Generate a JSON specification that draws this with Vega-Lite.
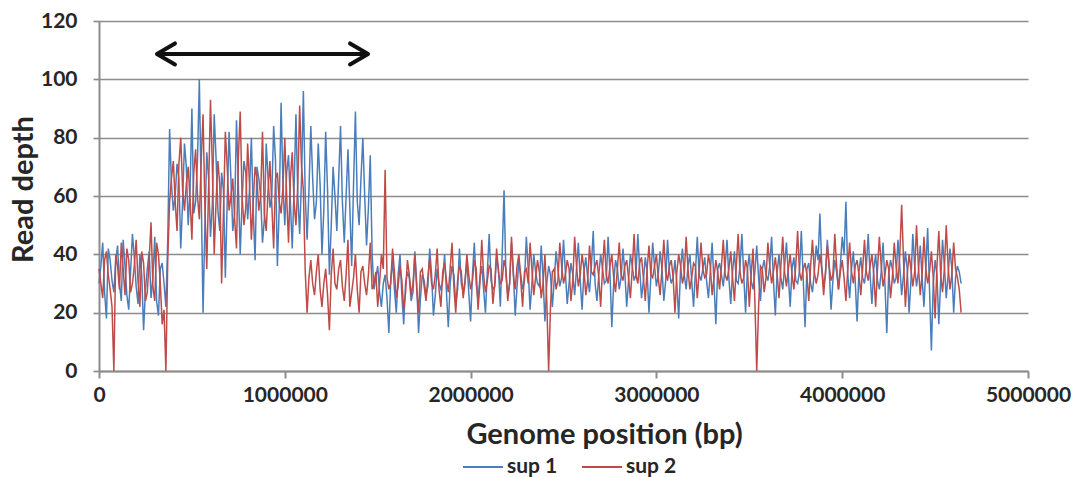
{
"$schema": "https://vega.github.io/schema/vega-lite/v6.json",
"width": 929, "height": 350,
"autosize": {"type": "none"},
"padding": {"left": 99, "top": 21, "right": 47, "bottom": 106},
"background": "white",
"config": {"view": {"stroke": null}, "font": "Lato"},
"datasets": {
"arrow": [{"x1": 312000, "x2": 1448000, "y": 108.7}],
"depth": [
{"pos":0,"sup 1":30,"sup 2":35},
{"pos":10000,"sup 1":36,"sup 2":30},
{"pos":20000,"sup 1":44,"sup 2":25},
{"pos":30000,"sup 1":27,"sup 2":38},
{"pos":40000,"sup 1":18,"sup 2":41},
{"pos":50000,"sup 1":42,"sup 2":33},
{"pos":60000,"sup 1":38,"sup 2":28},
{"pos":70000,"sup 1":31,"sup 2":22},
{"pos":80000,"sup 1":27,"sup 2":0},
{"pos":90000,"sup 1":38,"sup 2":40},
{"pos":100000,"sup 1":43,"sup 2":36},
{"pos":110000,"sup 1":30,"sup 2":28},
{"pos":120000,"sup 1":24,"sup 2":44},
{"pos":130000,"sup 1":45,"sup 2":35},
{"pos":140000,"sup 1":36,"sup 2":26},
{"pos":150000,"sup 1":26,"sup 2":42},
{"pos":160000,"sup 1":21,"sup 2":38},
{"pos":170000,"sup 1":34,"sup 2":27},
{"pos":180000,"sup 1":47,"sup 2":30},
{"pos":190000,"sup 1":39,"sup 2":36},
{"pos":200000,"sup 1":29,"sup 2":45},
{"pos":210000,"sup 1":23,"sup 2":31},
{"pos":220000,"sup 1":40,"sup 2":22},
{"pos":230000,"sup 1":33,"sup 2":41},
{"pos":240000,"sup 1":14,"sup 2":37},
{"pos":250000,"sup 1":28,"sup 2":24},
{"pos":260000,"sup 1":35,"sup 2":27},
{"pos":270000,"sup 1":41,"sup 2":38},
{"pos":280000,"sup 1":25,"sup 2":51},
{"pos":290000,"sup 1":32,"sup 2":29},
{"pos":300000,"sup 1":46,"sup 2":24},
{"pos":310000,"sup 1":24,"sup 2":44},
{"pos":320000,"sup 1":19,"sup 2":40},
{"pos":330000,"sup 1":35,"sup 2":30},
{"pos":340000,"sup 1":37,"sup 2":16},
{"pos":350000,"sup 1":30,"sup 2":21},
{"pos":360000,"sup 1":22,"sup 2":0},
{"pos":370000,"sup 1":45,"sup 2":38},
{"pos":380000,"sup 1":83,"sup 2":58},
{"pos":390000,"sup 1":64,"sup 2":66},
{"pos":400000,"sup 1":55,"sup 2":72},
{"pos":410000,"sup 1":60,"sup 2":58},
{"pos":420000,"sup 1":71,"sup 2":48},
{"pos":430000,"sup 1":66,"sup 2":71},
{"pos":440000,"sup 1":42,"sup 2":80},
{"pos":450000,"sup 1":58,"sup 2":62},
{"pos":460000,"sup 1":78,"sup 2":55},
{"pos":470000,"sup 1":70,"sup 2":64},
{"pos":480000,"sup 1":50,"sup 2":70},
{"pos":490000,"sup 1":62,"sup 2":59},
{"pos":500000,"sup 1":90,"sup 2":45},
{"pos":510000,"sup 1":54,"sup 2":68},
{"pos":520000,"sup 1":58,"sup 2":76},
{"pos":530000,"sup 1":72,"sup 2":60},
{"pos":540000,"sup 1":100,"sup 2":52},
{"pos":550000,"sup 1":61,"sup 2":72},
{"pos":560000,"sup 1":20,"sup 2":88},
{"pos":570000,"sup 1":50,"sup 2":56},
{"pos":580000,"sup 1":75,"sup 2":35},
{"pos":590000,"sup 1":66,"sup 2":63},
{"pos":600000,"sup 1":46,"sup 2":93},
{"pos":610000,"sup 1":57,"sup 2":70},
{"pos":620000,"sup 1":88,"sup 2":40},
{"pos":630000,"sup 1":73,"sup 2":58},
{"pos":640000,"sup 1":55,"sup 2":72},
{"pos":650000,"sup 1":48,"sup 2":64},
{"pos":660000,"sup 1":68,"sup 2":30},
{"pos":670000,"sup 1":62,"sup 2":55},
{"pos":680000,"sup 1":32,"sup 2":82},
{"pos":690000,"sup 1":58,"sup 2":70},
{"pos":700000,"sup 1":82,"sup 2":55},
{"pos":710000,"sup 1":66,"sup 2":60},
{"pos":720000,"sup 1":48,"sup 2":66},
{"pos":730000,"sup 1":54,"sup 2":52},
{"pos":740000,"sup 1":86,"sup 2":42},
{"pos":750000,"sup 1":64,"sup 2":73},
{"pos":760000,"sup 1":40,"sup 2":89},
{"pos":770000,"sup 1":58,"sup 2":60},
{"pos":780000,"sup 1":72,"sup 2":50},
{"pos":790000,"sup 1":68,"sup 2":56},
{"pos":800000,"sup 1":52,"sup 2":78},
{"pos":810000,"sup 1":62,"sup 2":64},
{"pos":820000,"sup 1":80,"sup 2":45},
{"pos":830000,"sup 1":55,"sup 2":58},
{"pos":840000,"sup 1":38,"sup 2":70},
{"pos":850000,"sup 1":70,"sup 2":66},
{"pos":860000,"sup 1":66,"sup 2":55},
{"pos":870000,"sup 1":60,"sup 2":60},
{"pos":880000,"sup 1":44,"sup 2":82},
{"pos":890000,"sup 1":52,"sup 2":54},
{"pos":900000,"sup 1":78,"sup 2":48},
{"pos":910000,"sup 1":66,"sup 2":62},
{"pos":920000,"sup 1":56,"sup 2":72},
{"pos":930000,"sup 1":60,"sup 2":57},
{"pos":940000,"sup 1":84,"sup 2":42},
{"pos":950000,"sup 1":72,"sup 2":66},
{"pos":960000,"sup 1":36,"sup 2":68},
{"pos":970000,"sup 1":56,"sup 2":58},
{"pos":980000,"sup 1":92,"sup 2":54},
{"pos":990000,"sup 1":64,"sup 2":63},
{"pos":1000000,"sup 1":50,"sup 2":80},
{"pos":1010000,"sup 1":68,"sup 2":60},
{"pos":1020000,"sup 1":74,"sup 2":44},
{"pos":1030000,"sup 1":58,"sup 2":66},
{"pos":1040000,"sup 1":42,"sup 2":75},
{"pos":1050000,"sup 1":63,"sup 2":58},
{"pos":1060000,"sup 1":88,"sup 2":50},
{"pos":1070000,"sup 1":60,"sup 2":64},
{"pos":1080000,"sup 1":47,"sup 2":91},
{"pos":1090000,"sup 1":66,"sup 2":70},
{"pos":1100000,"sup 1":96,"sup 2":62},
{"pos":1110000,"sup 1":60,"sup 2":34},
{"pos":1120000,"sup 1":45,"sup 2":20},
{"pos":1130000,"sup 1":62,"sup 2":32},
{"pos":1140000,"sup 1":84,"sup 2":38},
{"pos":1150000,"sup 1":66,"sup 2":30},
{"pos":1160000,"sup 1":52,"sup 2":26},
{"pos":1170000,"sup 1":58,"sup 2":34},
{"pos":1180000,"sup 1":78,"sup 2":40},
{"pos":1190000,"sup 1":64,"sup 2":28},
{"pos":1200000,"sup 1":40,"sup 2":22},
{"pos":1210000,"sup 1":55,"sup 2":30},
{"pos":1220000,"sup 1":82,"sup 2":35},
{"pos":1230000,"sup 1":62,"sup 2":26},
{"pos":1240000,"sup 1":33,"sup 2":14},
{"pos":1250000,"sup 1":50,"sup 2":33},
{"pos":1260000,"sup 1":70,"sup 2":42},
{"pos":1270000,"sup 1":60,"sup 2":30},
{"pos":1280000,"sup 1":48,"sup 2":28},
{"pos":1290000,"sup 1":66,"sup 2":35},
{"pos":1300000,"sup 1":84,"sup 2":38},
{"pos":1310000,"sup 1":58,"sup 2":29},
{"pos":1320000,"sup 1":44,"sup 2":24},
{"pos":1330000,"sup 1":60,"sup 2":33},
{"pos":1340000,"sup 1":76,"sup 2":45},
{"pos":1350000,"sup 1":56,"sup 2":22},
{"pos":1360000,"sup 1":36,"sup 2":27},
{"pos":1370000,"sup 1":64,"sup 2":32},
{"pos":1380000,"sup 1":89,"sup 2":40},
{"pos":1390000,"sup 1":58,"sup 2":28},
{"pos":1400000,"sup 1":50,"sup 2":20},
{"pos":1410000,"sup 1":66,"sup 2":34},
{"pos":1420000,"sup 1":80,"sup 2":36},
{"pos":1430000,"sup 1":60,"sup 2":30},
{"pos":1440000,"sup 1":43,"sup 2":26},
{"pos":1450000,"sup 1":56,"sup 2":33},
{"pos":1460000,"sup 1":74,"sup 2":44},
{"pos":1470000,"sup 1":40,"sup 2":28},
{"pos":1480000,"sup 1":28,"sup 2":30},
{"pos":1490000,"sup 1":32,"sup 2":34},
{"pos":1500000,"sup 1":36,"sup 2":22},
{"pos":1510000,"sup 1":27,"sup 2":30},
{"pos":1520000,"sup 1":22,"sup 2":40},
{"pos":1530000,"sup 1":30,"sup 2":35},
{"pos":1540000,"sup 1":33,"sup 2":69},
{"pos":1550000,"sup 1":25,"sup 2":32},
{"pos":1560000,"sup 1":13,"sup 2":28},
{"pos":1570000,"sup 1":31,"sup 2":30},
{"pos":1580000,"sup 1":38,"sup 2":42},
{"pos":1590000,"sup 1":28,"sup 2":34},
{"pos":1600000,"sup 1":20,"sup 2":25},
{"pos":1610000,"sup 1":33,"sup 2":29},
{"pos":1620000,"sup 1":40,"sup 2":36},
{"pos":1630000,"sup 1":26,"sup 2":31},
{"pos":1640000,"sup 1":16,"sup 2":21},
{"pos":1650000,"sup 1":30,"sup 2":27},
{"pos":1660000,"sup 1":34,"sup 2":38},
{"pos":1670000,"sup 1":32,"sup 2":33},
{"pos":1680000,"sup 1":24,"sup 2":26},
{"pos":1690000,"sup 1":27,"sup 2":30},
{"pos":1700000,"sup 1":41,"sup 2":40},
{"pos":1710000,"sup 1":30,"sup 2":28},
{"pos":1720000,"sup 1":13,"sup 2":20},
{"pos":1730000,"sup 1":25,"sup 2":34},
{"pos":1740000,"sup 1":33,"sup 2":35},
{"pos":1750000,"sup 1":31,"sup 2":29},
{"pos":1760000,"sup 1":26,"sup 2":24},
{"pos":1770000,"sup 1":29,"sup 2":32},
{"pos":1780000,"sup 1":42,"sup 2":39},
{"pos":1790000,"sup 1":33,"sup 2":30},
{"pos":1800000,"sup 1":19,"sup 2":28},
{"pos":1810000,"sup 1":26,"sup 2":33},
{"pos":1820000,"sup 1":35,"sup 2":42},
{"pos":1830000,"sup 1":30,"sup 2":28},
{"pos":1840000,"sup 1":28,"sup 2":22},
{"pos":1850000,"sup 1":31,"sup 2":34},
{"pos":1860000,"sup 1":40,"sup 2":37},
{"pos":1870000,"sup 1":27,"sup 2":31},
{"pos":1880000,"sup 1":15,"sup 2":27},
{"pos":1890000,"sup 1":30,"sup 2":35},
{"pos":1900000,"sup 1":36,"sup 2":44},
{"pos":1910000,"sup 1":33,"sup 2":29},
{"pos":1920000,"sup 1":23,"sup 2":20},
{"pos":1930000,"sup 1":28,"sup 2":31},
{"pos":1940000,"sup 1":42,"sup 2":36},
{"pos":1950000,"sup 1":30,"sup 2":34},
{"pos":1960000,"sup 1":27,"sup 2":25},
{"pos":1970000,"sup 1":31,"sup 2":30},
{"pos":1980000,"sup 1":38,"sup 2":40},
{"pos":1990000,"sup 1":27,"sup 2":33},
{"pos":2000000,"sup 1":17,"sup 2":28},
{"pos":2010000,"sup 1":33,"sup 2":31},
{"pos":2020000,"sup 1":44,"sup 2":38},
{"pos":2030000,"sup 1":30,"sup 2":35},
{"pos":2040000,"sup 1":24,"sup 2":21},
{"pos":2050000,"sup 1":32,"sup 2":30},
{"pos":2060000,"sup 1":36,"sup 2":45},
{"pos":2070000,"sup 1":28,"sup 2":33},
{"pos":2080000,"sup 1":20,"sup 2":27},
{"pos":2090000,"sup 1":34,"sup 2":31},
{"pos":2100000,"sup 1":47,"sup 2":36},
{"pos":2110000,"sup 1":31,"sup 2":35},
{"pos":2120000,"sup 1":28,"sup 2":23},
{"pos":2130000,"sup 1":29,"sup 2":30},
{"pos":2140000,"sup 1":39,"sup 2":42},
{"pos":2150000,"sup 1":35,"sup 2":34},
{"pos":2160000,"sup 1":22,"sup 2":30},
{"pos":2170000,"sup 1":40,"sup 2":31},
{"pos":2180000,"sup 1":62,"sup 2":38},
{"pos":2190000,"sup 1":33,"sup 2":35},
{"pos":2200000,"sup 1":26,"sup 2":24},
{"pos":2210000,"sup 1":30,"sup 2":30},
{"pos":2220000,"sup 1":44,"sup 2":46},
{"pos":2230000,"sup 1":34,"sup 2":33},
{"pos":2240000,"sup 1":19,"sup 2":28},
{"pos":2250000,"sup 1":29,"sup 2":36},
{"pos":2260000,"sup 1":38,"sup 2":40},
{"pos":2270000,"sup 1":33,"sup 2":31},
{"pos":2280000,"sup 1":28,"sup 2":22},
{"pos":2290000,"sup 1":31,"sup 2":34},
{"pos":2300000,"sup 1":46,"sup 2":35},
{"pos":2310000,"sup 1":35,"sup 2":30},
{"pos":2320000,"sup 1":21,"sup 2":44},
{"pos":2330000,"sup 1":30,"sup 2":35},
{"pos":2340000,"sup 1":40,"sup 2":26},
{"pos":2350000,"sup 1":34,"sup 2":32},
{"pos":2360000,"sup 1":30,"sup 2":38},
{"pos":2370000,"sup 1":29,"sup 2":34},
{"pos":2380000,"sup 1":43,"sup 2":25},
{"pos":2390000,"sup 1":32,"sup 2":30},
{"pos":2400000,"sup 1":17,"sup 2":40},
{"pos":2410000,"sup 1":30,"sup 2":24},
{"pos":2420000,"sup 1":36,"sup 2":0},
{"pos":2430000,"sup 1":33,"sup 2":22},
{"pos":2440000,"sup 1":22,"sup 2":34},
{"pos":2450000,"sup 1":31,"sup 2":35},
{"pos":2460000,"sup 1":41,"sup 2":28},
{"pos":2470000,"sup 1":35,"sup 2":31},
{"pos":2480000,"sup 1":29,"sup 2":44},
{"pos":2490000,"sup 1":32,"sup 2":36},
{"pos":2500000,"sup 1":45,"sup 2":30},
{"pos":2510000,"sup 1":34,"sup 2":33},
{"pos":2520000,"sup 1":23,"sup 2":38},
{"pos":2530000,"sup 1":30,"sup 2":35},
{"pos":2540000,"sup 1":37,"sup 2":24},
{"pos":2550000,"sup 1":33,"sup 2":31},
{"pos":2560000,"sup 1":26,"sup 2":46},
{"pos":2570000,"sup 1":35,"sup 2":36},
{"pos":2580000,"sup 1":44,"sup 2":29},
{"pos":2590000,"sup 1":31,"sup 2":33},
{"pos":2600000,"sup 1":21,"sup 2":40},
{"pos":2610000,"sup 1":34,"sup 2":35},
{"pos":2620000,"sup 1":39,"sup 2":26},
{"pos":2630000,"sup 1":32,"sup 2":31},
{"pos":2640000,"sup 1":27,"sup 2":43},
{"pos":2650000,"sup 1":36,"sup 2":34},
{"pos":2660000,"sup 1":48,"sup 2":33},
{"pos":2670000,"sup 1":30,"sup 2":36},
{"pos":2680000,"sup 1":24,"sup 2":38},
{"pos":2690000,"sup 1":33,"sup 2":32},
{"pos":2700000,"sup 1":40,"sup 2":22},
{"pos":2710000,"sup 1":35,"sup 2":35},
{"pos":2720000,"sup 1":30,"sup 2":45},
{"pos":2730000,"sup 1":31,"sup 2":33},
{"pos":2740000,"sup 1":46,"sup 2":30},
{"pos":2750000,"sup 1":34,"sup 2":36},
{"pos":2760000,"sup 1":15,"sup 2":40},
{"pos":2770000,"sup 1":30,"sup 2":32},
{"pos":2780000,"sup 1":38,"sup 2":27},
{"pos":2790000,"sup 1":35,"sup 2":35},
{"pos":2800000,"sup 1":28,"sup 2":44},
{"pos":2810000,"sup 1":32,"sup 2":33},
{"pos":2820000,"sup 1":42,"sup 2":31},
{"pos":2830000,"sup 1":34,"sup 2":36},
{"pos":2840000,"sup 1":22,"sup 2":38},
{"pos":2850000,"sup 1":31,"sup 2":32},
{"pos":2860000,"sup 1":40,"sup 2":25},
{"pos":2870000,"sup 1":36,"sup 2":35},
{"pos":2880000,"sup 1":31,"sup 2":47},
{"pos":2890000,"sup 1":33,"sup 2":33},
{"pos":2900000,"sup 1":47,"sup 2":30},
{"pos":2910000,"sup 1":35,"sup 2":37},
{"pos":2920000,"sup 1":25,"sup 2":39},
{"pos":2930000,"sup 1":31,"sup 2":32},
{"pos":2940000,"sup 1":39,"sup 2":24},
{"pos":2950000,"sup 1":34,"sup 2":35},
{"pos":2960000,"sup 1":20,"sup 2":43},
{"pos":2970000,"sup 1":32,"sup 2":33},
{"pos":2980000,"sup 1":44,"sup 2":32},
{"pos":2990000,"sup 1":36,"sup 2":36},
{"pos":3000000,"sup 1":29,"sup 2":40},
{"pos":3010000,"sup 1":33,"sup 2":32},
{"pos":3020000,"sup 1":41,"sup 2":26},
{"pos":3030000,"sup 1":35,"sup 2":35},
{"pos":3040000,"sup 1":24,"sup 2":45},
{"pos":3050000,"sup 1":31,"sup 2":34},
{"pos":3060000,"sup 1":45,"sup 2":31},
{"pos":3070000,"sup 1":34,"sup 2":36},
{"pos":3080000,"sup 1":30,"sup 2":38},
{"pos":3090000,"sup 1":32,"sup 2":32},
{"pos":3100000,"sup 1":38,"sup 2":20},
{"pos":3110000,"sup 1":30,"sup 2":34},
{"pos":3120000,"sup 1":18,"sup 2":40},
{"pos":3130000,"sup 1":35,"sup 2":36},
{"pos":3140000,"sup 1":42,"sup 2":30},
{"pos":3150000,"sup 1":33,"sup 2":33},
{"pos":3160000,"sup 1":28,"sup 2":46},
{"pos":3170000,"sup 1":36,"sup 2":35},
{"pos":3180000,"sup 1":40,"sup 2":28},
{"pos":3190000,"sup 1":31,"sup 2":32},
{"pos":3200000,"sup 1":22,"sup 2":37},
{"pos":3210000,"sup 1":34,"sup 2":36},
{"pos":3220000,"sup 1":46,"sup 2":25},
{"pos":3230000,"sup 1":33,"sup 2":34},
{"pos":3240000,"sup 1":31,"sup 2":44},
{"pos":3250000,"sup 1":35,"sup 2":35},
{"pos":3260000,"sup 1":39,"sup 2":32},
{"pos":3270000,"sup 1":31,"sup 2":33},
{"pos":3280000,"sup 1":25,"sup 2":40},
{"pos":3290000,"sup 1":34,"sup 2":36},
{"pos":3300000,"sup 1":44,"sup 2":26},
{"pos":3310000,"sup 1":30,"sup 2":32},
{"pos":3320000,"sup 1":16,"sup 2":38},
{"pos":3330000,"sup 1":35,"sup 2":34},
{"pos":3340000,"sup 1":37,"sup 2":28},
{"pos":3350000,"sup 1":33,"sup 2":36},
{"pos":3360000,"sup 1":29,"sup 2":45},
{"pos":3370000,"sup 1":36,"sup 2":33},
{"pos":3380000,"sup 1":45,"sup 2":31},
{"pos":3390000,"sup 1":32,"sup 2":35},
{"pos":3400000,"sup 1":23,"sup 2":41},
{"pos":3410000,"sup 1":34,"sup 2":32},
{"pos":3420000,"sup 1":41,"sup 2":24},
{"pos":3430000,"sup 1":31,"sup 2":36},
{"pos":3440000,"sup 1":30,"sup 2":47},
{"pos":3450000,"sup 1":36,"sup 2":34},
{"pos":3460000,"sup 1":47,"sup 2":30},
{"pos":3470000,"sup 1":33,"sup 2":32},
{"pos":3480000,"sup 1":20,"sup 2":38},
{"pos":3490000,"sup 1":35,"sup 2":35},
{"pos":3500000,"sup 1":40,"sup 2":22},
{"pos":3510000,"sup 1":31,"sup 2":33},
{"pos":3520000,"sup 1":28,"sup 2":42},
{"pos":3530000,"sup 1":34,"sup 2":24},
{"pos":3540000,"sup 1":43,"sup 2":0},
{"pos":3550000,"sup 1":32,"sup 2":22},
{"pos":3560000,"sup 1":24,"sup 2":36},
{"pos":3570000,"sup 1":35,"sup 2":35},
{"pos":3580000,"sup 1":38,"sup 2":27},
{"pos":3590000,"sup 1":33,"sup 2":32},
{"pos":3600000,"sup 1":31,"sup 2":44},
{"pos":3610000,"sup 1":36,"sup 2":36},
{"pos":3620000,"sup 1":46,"sup 2":30},
{"pos":3630000,"sup 1":31,"sup 2":34},
{"pos":3640000,"sup 1":19,"sup 2":39},
{"pos":3650000,"sup 1":34,"sup 2":33},
{"pos":3660000,"sup 1":40,"sup 2":25},
{"pos":3670000,"sup 1":32,"sup 2":36},
{"pos":3680000,"sup 1":28,"sup 2":46},
{"pos":3690000,"sup 1":36,"sup 2":34},
{"pos":3700000,"sup 1":44,"sup 2":29},
{"pos":3710000,"sup 1":33,"sup 2":35},
{"pos":3720000,"sup 1":22,"sup 2":40},
{"pos":3730000,"sup 1":35,"sup 2":33},
{"pos":3740000,"sup 1":39,"sup 2":28},
{"pos":3750000,"sup 1":31,"sup 2":36},
{"pos":3760000,"sup 1":30,"sup 2":48},
{"pos":3770000,"sup 1":34,"sup 2":34},
{"pos":3780000,"sup 1":48,"sup 2":31},
{"pos":3790000,"sup 1":32,"sup 2":35},
{"pos":3800000,"sup 1":15,"sup 2":37},
{"pos":3810000,"sup 1":35,"sup 2":33},
{"pos":3820000,"sup 1":37,"sup 2":24},
{"pos":3830000,"sup 1":30,"sup 2":36},
{"pos":3840000,"sup 1":27,"sup 2":45},
{"pos":3850000,"sup 1":34,"sup 2":34},
{"pos":3860000,"sup 1":43,"sup 2":30},
{"pos":3870000,"sup 1":38,"sup 2":33},
{"pos":3880000,"sup 1":54,"sup 2":40},
{"pos":3890000,"sup 1":36,"sup 2":35},
{"pos":3900000,"sup 1":29,"sup 2":26},
{"pos":3910000,"sup 1":33,"sup 2":34},
{"pos":3920000,"sup 1":45,"sup 2":43},
{"pos":3930000,"sup 1":35,"sup 2":36},
{"pos":3940000,"sup 1":21,"sup 2":31},
{"pos":3950000,"sup 1":31,"sup 2":33},
{"pos":3960000,"sup 1":38,"sup 2":47},
{"pos":3970000,"sup 1":34,"sup 2":36},
{"pos":3980000,"sup 1":28,"sup 2":28},
{"pos":3990000,"sup 1":36,"sup 2":34},
{"pos":4000000,"sup 1":46,"sup 2":38},
{"pos":4010000,"sup 1":40,"sup 2":32},
{"pos":4020000,"sup 1":58,"sup 2":24},
{"pos":4030000,"sup 1":33,"sup 2":35},
{"pos":4040000,"sup 1":25,"sup 2":44},
{"pos":4050000,"sup 1":35,"sup 2":34},
{"pos":4060000,"sup 1":41,"sup 2":30},
{"pos":4070000,"sup 1":31,"sup 2":36},
{"pos":4080000,"sup 1":17,"sup 2":38},
{"pos":4090000,"sup 1":34,"sup 2":33},
{"pos":4100000,"sup 1":39,"sup 2":26},
{"pos":4110000,"sup 1":32,"sup 2":35},
{"pos":4120000,"sup 1":30,"sup 2":45},
{"pos":4130000,"sup 1":36,"sup 2":34},
{"pos":4140000,"sup 1":47,"sup 2":31},
{"pos":4150000,"sup 1":33,"sup 2":36},
{"pos":4160000,"sup 1":23,"sup 2":40},
{"pos":4170000,"sup 1":35,"sup 2":33},
{"pos":4180000,"sup 1":40,"sup 2":22},
{"pos":4190000,"sup 1":31,"sup 2":35},
{"pos":4200000,"sup 1":28,"sup 2":46},
{"pos":4210000,"sup 1":34,"sup 2":36},
{"pos":4220000,"sup 1":44,"sup 2":29},
{"pos":4230000,"sup 1":30,"sup 2":33},
{"pos":4240000,"sup 1":13,"sup 2":38},
{"pos":4250000,"sup 1":33,"sup 2":35},
{"pos":4260000,"sup 1":38,"sup 2":25},
{"pos":4270000,"sup 1":35,"sup 2":32},
{"pos":4280000,"sup 1":30,"sup 2":44},
{"pos":4290000,"sup 1":32,"sup 2":36},
{"pos":4300000,"sup 1":45,"sup 2":30},
{"pos":4310000,"sup 1":36,"sup 2":40},
{"pos":4320000,"sup 1":26,"sup 2":57},
{"pos":4330000,"sup 1":33,"sup 2":38},
{"pos":4340000,"sup 1":41,"sup 2":22},
{"pos":4350000,"sup 1":35,"sup 2":33},
{"pos":4360000,"sup 1":20,"sup 2":40},
{"pos":4370000,"sup 1":31,"sup 2":35},
{"pos":4380000,"sup 1":47,"sup 2":29},
{"pos":4390000,"sup 1":36,"sup 2":34},
{"pos":4400000,"sup 1":29,"sup 2":50},
{"pos":4410000,"sup 1":34,"sup 2":36},
{"pos":4420000,"sup 1":43,"sup 2":26},
{"pos":4430000,"sup 1":32,"sup 2":33},
{"pos":4440000,"sup 1":22,"sup 2":46},
{"pos":4450000,"sup 1":35,"sup 2":35},
{"pos":4460000,"sup 1":49,"sup 2":30},
{"pos":4470000,"sup 1":28,"sup 2":34},
{"pos":4480000,"sup 1":7,"sup 2":41},
{"pos":4490000,"sup 1":30,"sup 2":32},
{"pos":4500000,"sup 1":38,"sup 2":18},
{"pos":4510000,"sup 1":33,"sup 2":36},
{"pos":4520000,"sup 1":16,"sup 2":48},
{"pos":4530000,"sup 1":31,"sup 2":33},
{"pos":4540000,"sup 1":45,"sup 2":27},
{"pos":4550000,"sup 1":36,"sup 2":35},
{"pos":4560000,"sup 1":25,"sup 2":50},
{"pos":4570000,"sup 1":33,"sup 2":36},
{"pos":4580000,"sup 1":42,"sup 2":28},
{"pos":4590000,"sup 1":35,"sup 2":33},
{"pos":4600000,"sup 1":20,"sup 2":44},
{"pos":4610000,"sup 1":32,"sup 2":35},
{"pos":4620000,"sup 1":36,"sup 2":32},
{"pos":4630000,"sup 1":34,"sup 2":28},
{"pos":4640000,"sup 1":30,"sup 2":20}
]
},
"layer": [
{
"data": {"name": "depth"},
"mark": {"type": "line", "strokeWidth": 1.5},
"encoding": {
"x": {"field": "pos", "type": "quantitative", "title": "Genome position (bp)",
 "scale": {"domain": [0, 5000000], "nice": false, "zero": false},
 "axis": {"values": [0, 1000000, 2000000, 3000000, 4000000, 5000000], "format": "d", "grid": false,
  "domainColor": "#8c8c8c", "domainWidth": 2, "tickColor": "#8c8c8c", "tickWidth": 2, "tickSize": 7,
  "labelFont": "Lato", "labelFontWeight": "bold", "labelFontSize": 21, "labelColor": "#262626",
  "labelPadding": 6, "labelFlush": false, "labelOverlap": false,
  "titleFont": "Lato", "titleFontSize": 29, "titleFontWeight": "bold", "titleColor": "#262626",
  "titleX": 505, "titleY": 72, "titleBaseline": "alphabetic", "titleAlign": "center"}},
"y": {"field": "sup 1", "type": "quantitative", "title": "Read depth",
 "scale": {"domain": [0, 120], "nice": false},
 "axis": {"values": [0, 20, 40, 60, 80, 100, 120], "grid": true, "gridColor": "#8c8c8c", "gridWidth": 1.7,
  "domainColor": "#8c8c8c", "domainWidth": 2, "tickColor": "#8c8c8c", "tickWidth": 1.7, "tickSize": 6,
  "labelFont": "Lato", "labelFontWeight": "bold", "labelFontSize": 21, "labelColor": "#262626",
  "labelPadding": 16, "labelFlush": false, "labelOverlap": false,
  "titleFont": "Lato", "titleFontSize": 29, "titleFontWeight": "bold", "titleColor": "#262626",
  "titleX": -76, "titleY": 168, "titleBaseline": "middle", "titleAngle": 270, "titleAlign": "center"}},
"color": {"datum": "sup 1", "type": "nominal",
 "scale": {"domain": ["sup 1", "sup 2"], "range": ["#4a7ebb", "#be4b48"]},
 "legend": {"orient": "none", "legendX": 363, "legendY": 425, "direction": "horizontal", "title": null,
  "symbolType": "stroke", "symbolSize": 1600, "symbolStrokeWidth": 2,
  "labelFont": "Lato", "labelFontSize": 21, "labelFontWeight": "bold", "labelColor": "#262626",
  "labelOffset": 3, "columnPadding": 20, "padding": 0}}
}
},
{
"data": {"name": "depth"},
"mark": {"type": "line", "strokeWidth": 1.5},
"encoding": {
"x": {"field": "pos", "type": "quantitative", "title": "Genome position (bp)"},
"y": {"field": "sup 2", "type": "quantitative", "title": "Read depth"},
"color": {"datum": "sup 2", "type": "nominal"}
}
},
{
"data": {"name": "arrow"},
"mark": {"type": "rule", "strokeWidth": 4, "color": "#111111"},
"encoding": {
"x": {"field": "x1", "type": "quantitative", "title": "Genome position (bp)"},
"x2": {"field": "x2"},
"y": {"field": "y", "type": "quantitative", "title": "Read depth"}
}
},
{
"data": {"name": "arrow"},
"mark": {"type": "point", "shape": "M1.8,-1.05L0,0L1.8,1.05", "size": 400, "filled": false, "stroke": "#111111", "strokeWidth": 4, "opacity": 1, "strokeCap": "round", "strokeJoin": "round"},
"encoding": {
"x": {"field": "x1", "type": "quantitative", "title": "Genome position (bp)"},
"y": {"field": "y", "type": "quantitative", "title": "Read depth"}
}
},
{
"data": {"name": "arrow"},
"mark": {"type": "point", "shape": "M-1.8,-1.05L0,0L-1.8,1.05", "size": 400, "filled": false, "stroke": "#111111", "strokeWidth": 4, "opacity": 1, "strokeCap": "round", "strokeJoin": "round"},
"encoding": {
"x": {"field": "x2", "type": "quantitative", "title": "Genome position (bp)"},
"y": {"field": "y", "type": "quantitative", "title": "Read depth"}
}
}
]
}
